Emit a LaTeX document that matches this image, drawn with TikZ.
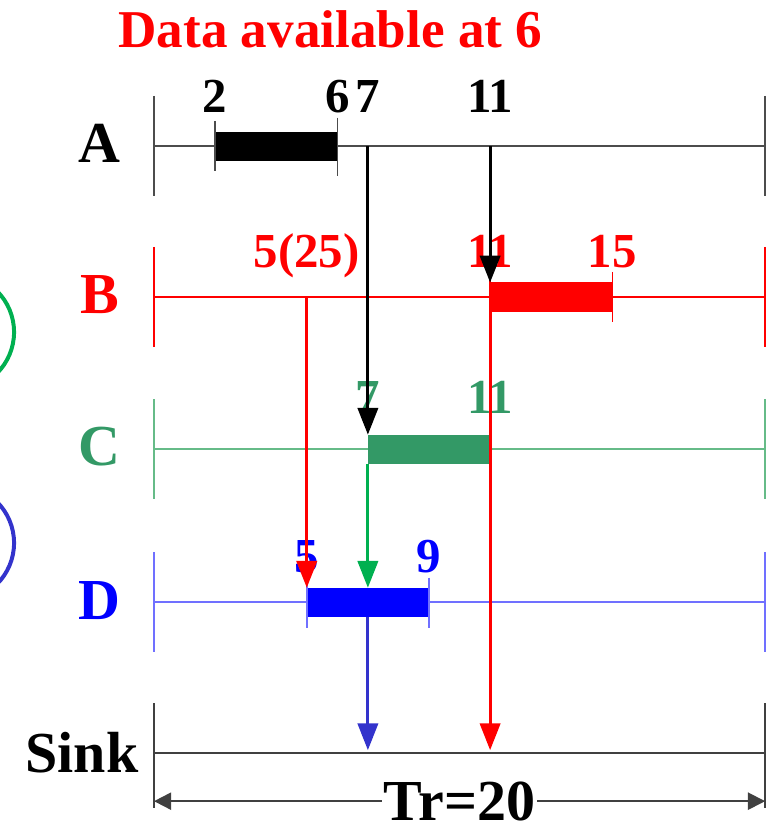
\documentclass[tikz,border=0pt]{standalone}
\usepackage{fontspec}
\setmainfont{Liberation Serif}
\usetikzlibrary{arrows.meta}
\definecolor{cgreen}{HTML}{339966}
\definecolor{lgreen}{HTML}{66BB88}
\definecolor{agreen}{HTML}{00B050}
\definecolor{ablue}{HTML}{3333CC}
\definecolor{lblue}{HTML}{7070FF}

\begin{document}
\begin{tikzpicture}[>={Triangle[length=25pt,width=19pt]},
  lbl/.style={font=\fontsize{54}{60}\selectfont\bfseries, anchor=base, inner sep=0pt},
  num/.style={font=\fontsize{45.5}{50}\selectfont\bfseries, anchor=base, inner sep=0pt},
  axis/.style={line width=1.8pt},
  bar/.style={line width=1.5pt},
  arr/.style={->, line width=2.6pt}]
  \useasboundingbox (-5.04,0) rectangle (20.07,-27.0);
  % title
  \node[lbl, red, font=\fontsize{49.5}{56}\selectfont\bfseries] (title) at (5.77,-1.54) {Data available at 6};
  % side circles
  \draw[agreen, line width=3.7pt] (-6.48,-10.87) circle (1.9);
  \draw[ablue, line width=3.7pt] (-6.48,-17.77) circle (1.9);
  % A
  \draw[axis, black!70] (0,-4.78)--(20,-4.78); \draw[axis, black!70] (0,-3.14)--(0,-6.42); \draw[axis, black!70] (20,-3.14)--(20,-6.42);
  \node[lbl] (la) at (-1.77,-5.33) {A};
  \fill (2,-4.305) rectangle (6,-5.255);
  \draw[bar, black!70] (2,-3.96)--(2,-5.6); \draw[bar, black!70] (6,-3.85)--(6,-5.75);
  \node[num] (a2) at (2,-3.67) {2}; \node[num] (a6) at (6,-3.67) {6};
  \node[num] (a7) at (7,-3.67) {7}; \node[num] (a11) at (11,-3.67) {11};
  \coordinate (ta7) at (7,-4.78); \coordinate (ta11) at (11,-4.78);
  % B
  \draw[axis, red] (0,-9.72)--(20,-9.72); \draw[axis, red] (0,-8.08)--(0,-11.36); \draw[axis, red] (20,-8.08)--(20,-11.36);
  \node[lbl, red] (lb) at (-1.77,-10.27) {B};
  \fill[red] (11,-9.245) rectangle (15,-10.195);
  \draw[bar, red] (11,-9.0)--(11,-10.5); \draw[bar, red] (15,-8.9)--(15,-10.55);
  \node[num, red] (b5) at (5,-8.74) {5(25)}; \node[num, red] (b11) at (11,-8.74) {11};
  \node[num, red] (b15) at (15,-8.74) {15};
  \coordinate (tb5) at (5,-9.72); \coordinate (tb11) at (11,-9.245); \coordinate (bb11) at (11,-10.195);
  % C
  \draw[axis, lgreen] (0,-14.70)--(20,-14.70); \draw[axis, lgreen] (0,-13.06)--(0,-16.34); \draw[axis, lgreen] (20,-13.06)--(20,-16.34);
  \node[lbl, cgreen] (lc) at (-1.77,-15.25) {C};
  \fill[cgreen] (7,-14.225) rectangle (11,-15.175);
  \node[num, cgreen] (c7) at (7,-13.52) {7}; \node[num, cgreen] (c11) at (11,-13.52) {11};
  \coordinate (tc7) at (7,-14.225); \coordinate (bc7) at (7,-15.175);
  % D
  \draw[axis, lblue] (0,-19.71)--(20,-19.71); \draw[axis, lblue] (0,-18.07)--(0,-21.35); \draw[axis, lblue] (20,-18.07)--(20,-21.35);
  \node[lbl, blue] (ld) at (-1.77,-20.26) {D};
  \fill[blue] (5,-19.235) rectangle (9,-20.185);
  \draw[bar, lblue] (5,-18.9)--(5,-20.55); \draw[bar, lblue] (9,-18.9)--(9,-20.55);
  \node[num, blue] (d5) at (5,-18.72) {5}; \node[num, blue] (d9) at (9,-18.72) {9};
  \coordinate (td5) at (5,-19.235); \coordinate (td7) at (7,-19.235); \coordinate (bd7) at (7,-20.185);
  % Sink
  \draw[axis, black!75] (0,-24.65)--(20,-24.65); \draw[axis, black!75] (0,-23.01)--(0,-26.45); \draw[axis, black!75] (20,-23.01)--(20,-26.45);
  \node[lbl] (ls) at (-2.36,-25.27) {Sink};
  \coordinate (s7) at (7,-24.55); \coordinate (s11) at (11,-24.55);
  % messages
  \draw[arr] (ta7)--(tc7); \draw[arr] (ta11)--(tb11);
  \draw[arr, red] (tb5)--(td5); \draw[arr, red] (bb11)--(s11);
  \draw[arr, agreen] (bc7)--(td7); \draw[arr, ablue] (bd7)--(s7);
  % Tr
  \coordinate (tr0) at (0,-26.22); \coordinate (tr1) at (20,-26.22);
  \draw[line width=1.8pt, black!75, {Triangle[length=16pt,width=16pt]}-{Triangle[length=16pt,width=16pt]}] (tr0)--(tr1);
  \node[lbl, anchor=center, fill=white, inner xsep=2pt] (tr) at (10,-26.22) {Tr=20};
\end{tikzpicture}
\end{document}
